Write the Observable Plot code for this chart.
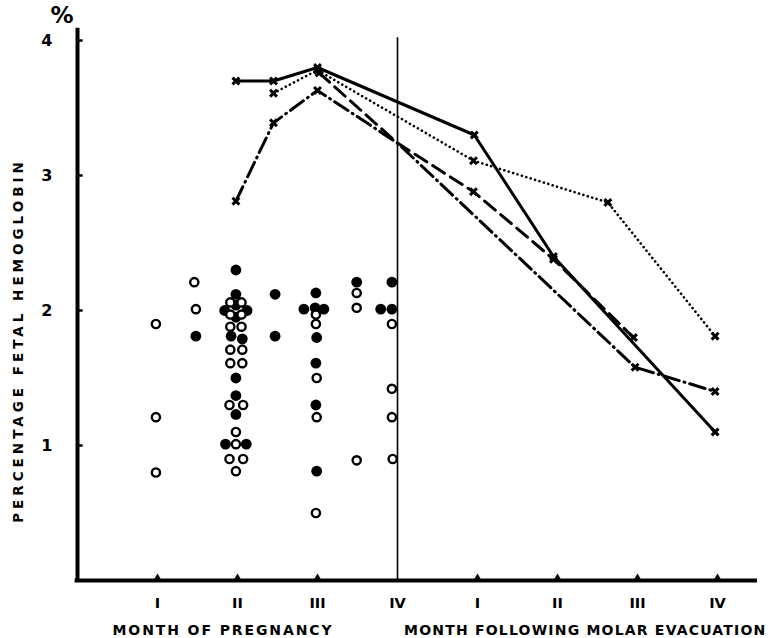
<!DOCTYPE html>
<html><head><meta charset="utf-8">
<script src="https://cdn.jsdelivr.net/npm/d3@7"></script>
<script src="https://cdn.jsdelivr.net/npm/@observablehq/plot@0.6"></script>
<style>body{margin:0;background:#fff} svg{display:block}</style>
</head><body><div id="chart"></div>
<script>
// month positions and their labels
const tickPositions = [1, 2, 3, 4, 5, 6, 7, 8];
const tickLabels = ["I", "II", "III", "IV", "I", "II", "III", "IV"];
const yTicks = [1, 2, 3, 4];
const yTitle = "PERCENTAGE FETAL HEMOGLOBIN";
const xTitleLeft = "MONTH OF PREGNANCY";
const xTitleRight = "MONTH FOLLOWING MOLAR EVACUATION";
const unitLabel = "%";

// individual patients: [month position, % fetal hemoglobin]
const seriesSolid   = [[1.98, 3.70], [2.45, 3.70], [3.0, 3.80], [4.96, 3.30], [5.95, 2.40], [7.97, 1.10]];
const seriesDotted  = [[2.45, 3.61], [3.0, 3.78], [4.95, 3.11], [6.63, 2.80], [7.97, 1.81]];
const seriesDashed  = [[3.02, 3.76], [4.0, 3.24], [4.95, 2.88], [5.95, 2.38], [6.95, 1.80]];
const seriesDashDot = [[1.98, 2.81], [2.45, 3.39], [3.0, 3.63], [4.0, 3.24], [6.97, 1.58], [7.97, 1.40]];

// single determinations during pregnancy
const filledPoints = [
  [1.48, 1.81],
  [1.98, 2.30], [1.98, 2.12], [1.84, 2.00], [2.12, 2.00], [1.98, 1.95], [1.98, 2.04],
  [1.92, 1.81], [2.06, 1.79], [1.98, 1.50], [1.98, 1.37], [1.98, 1.23], [1.85, 1.01], [2.11, 1.01],
  [2.47, 2.12], [2.47, 1.81],
  [2.98, 2.13], [2.83, 2.01], [2.97, 2.02], [3.08, 2.01], [2.99, 1.80], [2.98, 1.61], [2.98, 1.30], [2.99, 0.81],
  [3.49, 2.21],
  [3.93, 2.21], [3.79, 2.01], [3.93, 2.01]
];
const openPoints = [
  [0.98, 1.90], [0.98, 1.21], [0.98, 0.80],
  [1.46, 2.21], [1.48, 2.01],
  [1.91, 2.06], [2.05, 2.06], [1.91, 1.97], [2.05, 1.97], [1.91, 1.88], [2.05, 1.88],
  [1.91, 1.71], [2.06, 1.71], [1.91, 1.61], [2.06, 1.61], [1.90, 1.30], [2.07, 1.30],
  [1.98, 1.10], [1.98, 1.01], [1.90, 0.90], [2.07, 0.90], [1.98, 0.81],
  [2.98, 1.97], [2.98, 1.90], [2.99, 1.50], [2.99, 1.21], [2.98, 0.50],
  [3.49, 2.13], [3.49, 2.02], [3.49, 0.89],
  [3.93, 1.90], [3.93, 1.42], [3.93, 1.21], [3.94, 0.90]
];

const font = "DejaVu Sans, sans-serif";
const lineStyles = [
  {data: seriesSolid, dash: null, w: 3},
  {data: seriesDotted, dash: "0.1,4.5", w: 2.6},
  {data: seriesDashed, dash: "14,7", w: 3},
  {data: seriesDashDot, dash: "16,5,1,5", w: 3}
];

const chart = Plot.plot({
  width: 774,
  height: 638,
  marginLeft: 77,
  marginRight: 17,
  marginTop: 40,
  marginBottom: 58,
  style: {fontFamily: font, background: "#fff", color: "#000"},
  x: {domain: [0, 8.5]},
  y: {domain: [0, 4]},
  marks: [
    Plot.axisY(yTicks, {tickSize: 0, tickPadding: 25, fontSize: 16, fontWeight: "bold", label: null,
      tickFormat: d => String(d)}),
    Plot.axisX(tickPositions, {tickSize: 0, tickPadding: 17, fontSize: 14.5, fontWeight: "bold", label: null,
      tickFormat: d => tickLabels[tickPositions.indexOf(d)]}),
    Plot.ruleX([0], {y1: 0, y2: 4.09, strokeWidth: 4}),
    Plot.ruleY([0], {x1: -0.03, x2: 8.5, strokeWidth: 4}),
    Plot.ruleX([4], {y1: 0, y2: 4.02, strokeWidth: 1.6}),
    Plot.dot(tickPositions.filter(d => d !== 4), {x: d => d, y: 0, symbol: "triangle", r: 2.6, fill: "black", dy: -3}),
    Plot.ruleY(yTicks, {x1: 0, x2: 0.07, strokeWidth: 2.5}),
    ...lineStyles.map(s => Plot.line(s.data, {x: d => d[0], y: d => d[1], stroke: "black",
      strokeWidth: s.w, strokeDasharray: s.dash, strokeLinecap: "round", strokeLinejoin: "round"})),
    ...lineStyles.map(s => Plot.dot(s.data.filter(d => d[0] !== 4), {x: d => d[0], y: d => d[1],
      symbol: "times", r: 3.2, stroke: "black", strokeWidth: 3})),
    Plot.dot(filledPoints, {x: d => d[0], y: d => d[1], r: 5.4, fill: "black"}),
    Plot.dot(openPoints, {x: d => d[0], y: d => d[1], r: 4.1, fill: "white", stroke: "black", strokeWidth: 2.4}),
    Plot.text([unitLabel], {text: d => d, frameAnchor: "top-left", textAnchor: "start", lineAnchor: "top",
      dx: -27, dy: -34, fontSize: 23, fontWeight: "bold"}),
    Plot.text([yTitle], {text: d => d, frameAnchor: "left", textAnchor: "middle", lineAnchor: "middle",
      rotate: -90, dx: -59, dy: 30, fontSize: 13.5, fontWeight: "bold"}),
    Plot.text([xTitleLeft], {text: d => d, frameAnchor: "bottom-left", textAnchor: "start", lineAnchor: "middle",
      dx: 35, dy: 50, fontSize: 14, fontWeight: "bold"}),
    Plot.text([xTitleRight], {text: d => d, frameAnchor: "bottom-right", textAnchor: "end", lineAnchor: "middle",
      dx: 9, dy: 50, fontSize: 14, fontWeight: "bold"})
  ]
});

// letter spacing for the hand-lettered titles
chart.querySelectorAll("text").forEach(t => {
  const s = t.textContent;
  if (s === yTitle) t.setAttribute("letter-spacing", "4");
  else if (s === xTitleLeft) t.setAttribute("letter-spacing", "1.9");
  else if (s === xTitleRight) t.setAttribute("letter-spacing", "1.2");
});
document.getElementById("chart").append(chart);
</script>
</body></html>
